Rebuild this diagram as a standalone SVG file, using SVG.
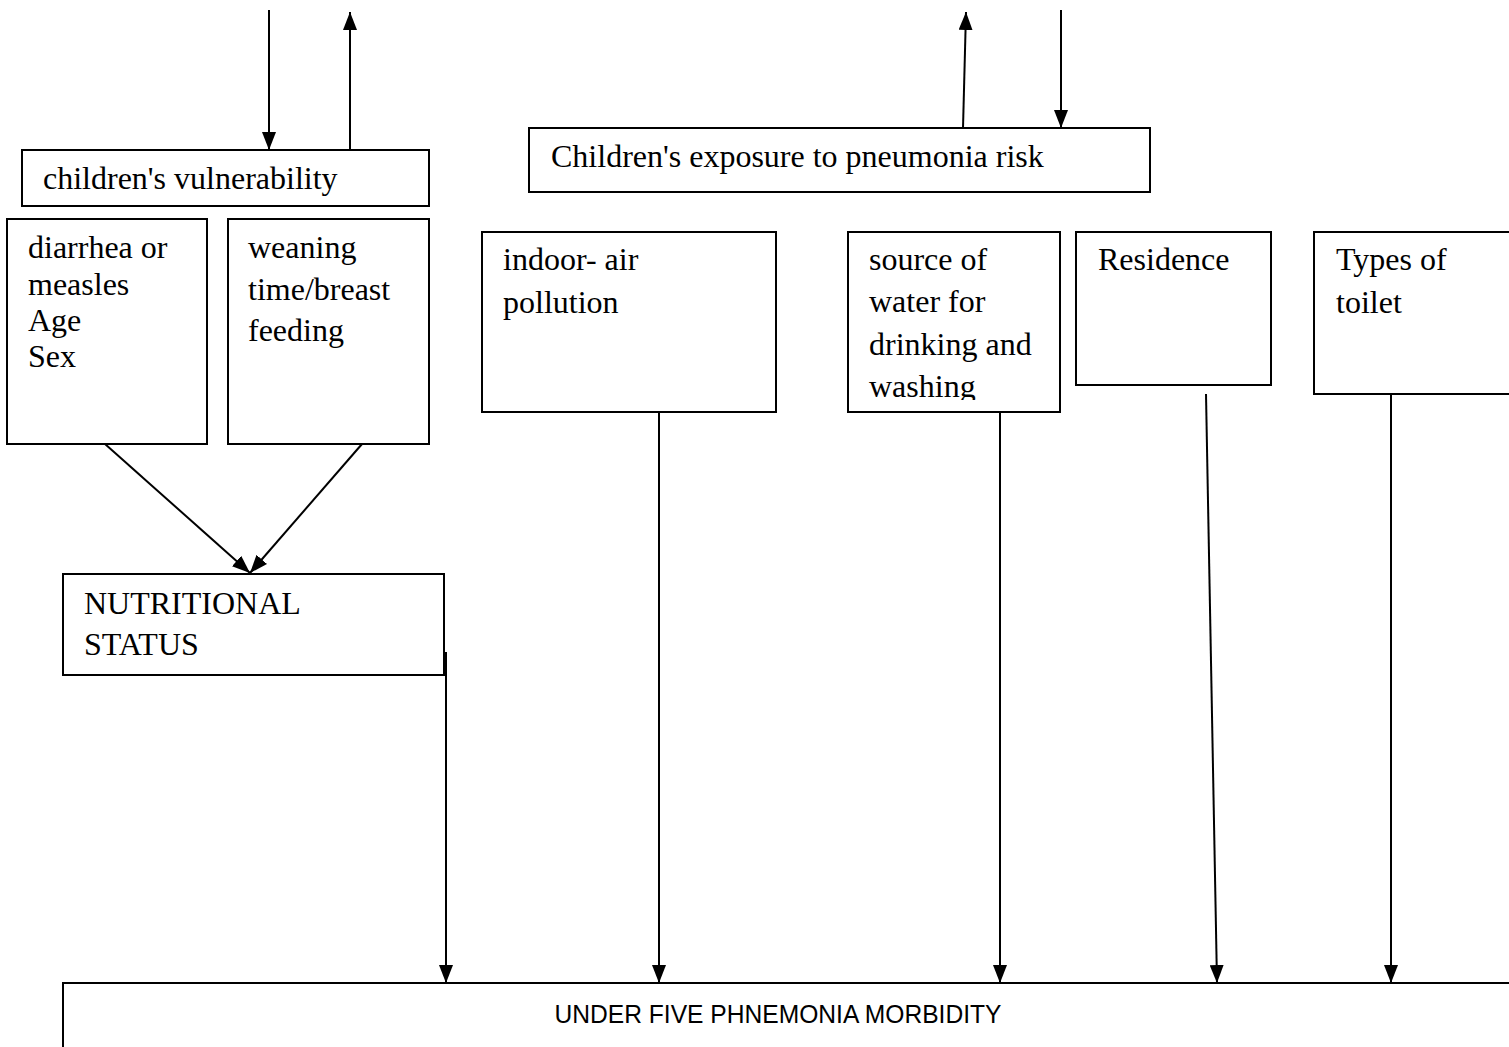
<svg xmlns="http://www.w3.org/2000/svg" width="1509" height="1047" viewBox="0 0 1509 1047">
<style>
.box{fill:#fff;stroke:#000;stroke-width:2}
.t{font-family:"Liberation Serif","Times New Roman",serif;font-size:32px;fill:#000}
.s{font-family:"Liberation Sans",Arial,sans-serif;font-size:26px;fill:#000}
.c{stroke:#000;stroke-width:2;fill:none;marker-end:url(#ah)}
</style>
<defs>
<marker id="ah" viewBox="0 0 18 14" refX="18" refY="7" markerWidth="18" markerHeight="14" markerUnits="userSpaceOnUse" orient="auto">
<path d="M0,0 L18,7 L0,14 Z" fill="#000"/>
</marker>
<clipPath id="wclip"><rect x="848" y="232" width="212" height="168"/></clipPath>
</defs>
<rect width="1509" height="1047" fill="#fff"/>
<g id="vulnerability"><rect class="box" x="22" y="150" width="407" height="56"/><text class="t" x="43" y="189">children's vulnerability</text></g>
<g id="exposure"><rect class="box" x="529" y="128" width="621" height="64"/><text class="t" x="551" y="167">Children's exposure to pneumonia risk</text></g>
<g id="diarrhea"><rect class="box" x="7" y="219" width="200" height="225"/><text class="t" x="28" y="258">diarrhea or</text><text class="t" x="28" y="295">measles</text><text class="t" x="28" y="331">Age</text><text class="t" x="28" y="367">Sex</text></g>
<g id="weaning"><rect class="box" x="228" y="219" width="201" height="225"/><text class="t" x="248" y="258">weaning</text><text class="t" x="248" y="300">time/breast</text><text class="t" x="248" y="341">feeding</text></g>
<g id="indoor"><rect class="box" x="482" y="232" width="294" height="180"/><text class="t" x="503" y="270">indoor- air</text><text class="t" x="503" y="313">pollution</text></g>
<g id="water"><rect class="box" x="848" y="232" width="212" height="180"/><g clip-path="url(#wclip)"><text class="t" x="869" y="270">source of</text><text class="t" x="869" y="312">water for</text><text class="t" x="869" y="355">drinking and</text><text class="t" x="869" y="397">washing</text></g></g>
<g id="residence"><rect class="box" x="1076" y="232" width="195" height="153"/><text class="t" x="1098" y="270">Residence</text></g>
<g id="toilet"><rect class="box" x="1314" y="232" width="200" height="162"/><text class="t" x="1336" y="270">Types of</text><text class="t" x="1336" y="313">toilet</text></g>
<g id="nutritional"><rect class="box" x="63" y="574" width="381" height="101"/><text class="t" x="84" y="614">NUTRITIONAL</text><text class="t" x="84" y="655">STATUS</text></g>
<g id="morbidity"><rect class="box" x="63" y="983" width="1452" height="80"/><text class="s" x="778" y="1023" text-anchor="middle" textLength="447" lengthAdjust="spacingAndGlyphs">UNDER FIVE PHNEMONIA MORBIDITY</text></g>
<g id="connectors">
<line class="c" x1="269" y1="10" x2="269" y2="150"/>
<line class="c" x1="350" y1="150" x2="350" y2="12"/>
<line class="c" x1="963" y1="128" x2="966" y2="12"/>
<line class="c" x1="1061" y1="10" x2="1061" y2="128"/>
<line class="c" x1="105" y1="444" x2="250" y2="573"/>
<line class="c" x1="362" y1="444" x2="250" y2="573"/>
<line class="c" x1="446" y1="652" x2="446" y2="983"/>
<line class="c" x1="659" y1="412" x2="659" y2="983"/>
<line class="c" x1="1000" y1="412" x2="1000" y2="983"/>
<line class="c" x1="1206" y1="394" x2="1217" y2="983"/>
<line class="c" x1="1391" y1="394" x2="1391" y2="983"/>
</g>
</svg>
